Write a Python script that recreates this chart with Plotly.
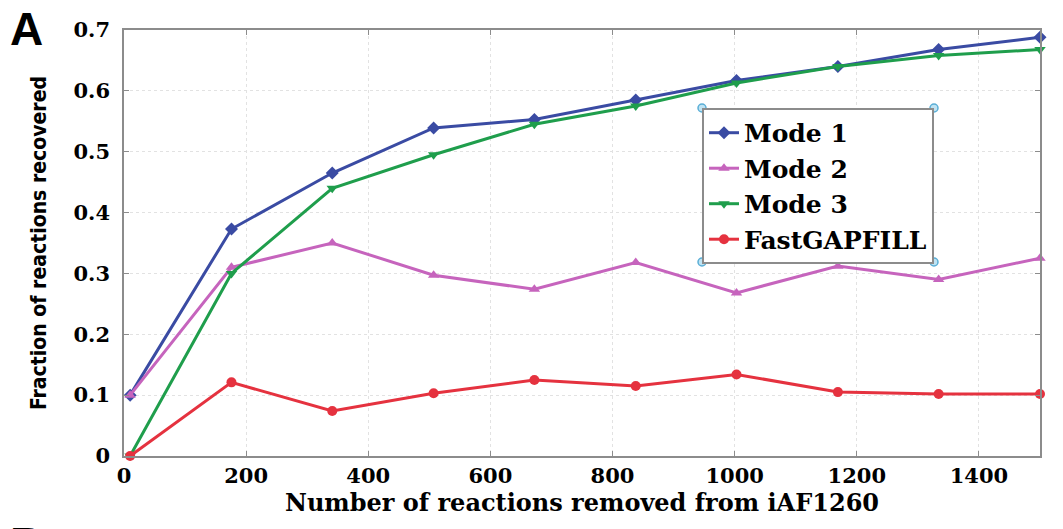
import plotly.graph_objects as go

x_removed = [10, 176, 341, 507, 672, 838, 1003, 1169, 1334, 1500]
mode1 = [0.100, 0.373, 0.465, 0.539, 0.553, 0.585, 0.617, 0.640, 0.668, 0.688]
mode2 = [0.100, 0.310, 0.350, 0.297, 0.274, 0.318, 0.268, 0.312, 0.290, 0.325]
mode3 = [0.000, 0.300, 0.440, 0.495, 0.545, 0.575, 0.613, 0.640, 0.658, 0.668]
fastgapfill = [0.000, 0.121, 0.074, 0.103, 0.125, 0.115, 0.134, 0.105, 0.102, 0.102]

x_ticks = [0, 200, 400, 600, 800, 1000, 1200, 1400]
y_ticks = [0, 0.1, 0.2, 0.3, 0.4, 0.5, 0.6, 0.7]
y_tick_labels = ["0", "0.1", "0.2", "0.3", "0.4", "0.5", "0.6", "0.7"]

series = [
    ("Mode 1", mode1, "#3a4ba3", "diamond"),
    ("Mode 2", mode2, "#c664bd", "triangle-up"),
    ("Mode 3", mode3, "#1f9e4c", "triangle-down"),
    ("FastGAPFILL", fastgapfill, "#e5323f", "circle"),
]

serif = "DejaVu Serif, Liberation Serif, serif"

fig = go.Figure()
for name, ys, color, sym in series:
    fig.add_trace(go.Scatter(
        x=x_removed, y=ys, name=name, mode="lines+markers",
        line=dict(color=color, width=3),
        marker=dict(symbol=sym, size=10, color=color),
        cliponaxis=False,
    ))

axis_common = dict(
    showline=True, linecolor="#8c8c8c", linewidth=1.5, mirror="allticks",
    ticks="inside", ticklen=5, tickcolor="#8c8c8c", tickwidth=1,
    showgrid=True, gridcolor="#e2e2e2", griddash="dot", gridwidth=1,
    zeroline=False,
    tickfont=dict(family=serif, size=21, color="black", weight="bold"),
)

fig.update_xaxes(
    range=[0, 1500], tickvals=x_ticks,
    title=dict(text="Number of reactions removed from iAF1260",
               font=dict(family=serif, size=24, color="black", weight="bold"),
               standoff=4),
    **axis_common,
)
fig.update_yaxes(
    range=[0, 0.7], tickvals=y_ticks, ticktext=y_tick_labels,
    ticklabelstandoff=8,
    title=dict(text="Fraction of reactions recovered",
               font=dict(family="Liberation Sans Narrow, DejaVu Sans Condensed, Arial Narrow, sans-serif",
                         size=21, color="black", weight="bold"),
               standoff=21),
    **axis_common,
)

# legend box corners (pixel estimate of rendered legend) for selection-handle marks
plot_l, plot_w, plot_b, plot_h = 124, 916, 456, 426
handle_px = [(702, 108), (934, 108), (702, 262), (934, 262)]
handles = []
for hx, hy in handle_px:
    cx = (hx - plot_l) / plot_w
    cy = (plot_b - hy) / plot_h
    handles.append(dict(
        type="circle", xref="paper", yref="paper",
        x0=cx, x1=cx, y0=cy, y1=cy, xsizemode="pixel", ysizemode="pixel",
        xanchor=cx, yanchor=cy,
        line=dict(color="#5aaed6", width=1.5), fillcolor="#bfe3f3", layer="above",
    ))
for h in handles:
    h["x0"], h["x1"], h["y0"], h["y1"] = -4, 4, -4, 4

fig.update_layout(
    width=1063, height=529,
    margin=dict(l=124, r=23, t=30, b=73),
    paper_bgcolor="white", plot_bgcolor="white",
    legend=dict(
        x=0.631, y=0.817, xanchor="left", yanchor="top",
        bgcolor="white", bordercolor="#8c8c8c", borderwidth=2,
        font=dict(family=serif, size=25, color="black", weight="bold"),
        itemwidth=30, tracegroupgap=0,
    ),
    shapes=handles,
    annotations=[
        dict(text="<b>A</b>", x=0, y=1, xref="paper", yref="paper",
             xanchor="left", yanchor="top", xshift=-116, yshift=29,
             showarrow=False,
             font=dict(family="Liberation Sans, Arial, sans-serif", size=46, color="black")),
        dict(text="<b>B</b>", x=0, y=0, xref="paper", yref="paper",
             xanchor="left", yanchor="top", xshift=-116, yshift=-60,
             showarrow=False,
             font=dict(family="Liberation Sans, Arial, sans-serif", size=46, color="black")),
    ],
)

fig.write_html("out.html")
